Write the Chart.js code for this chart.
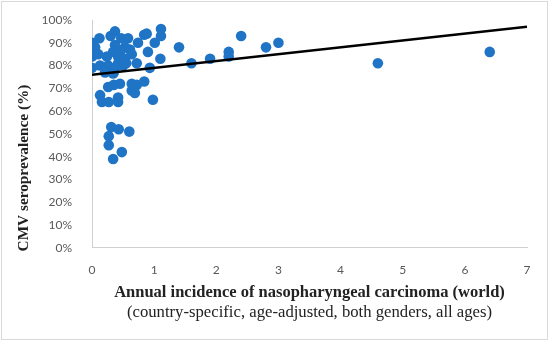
<!DOCTYPE html>
<html>
<head>
<meta charset="utf-8">
<script src="https://cdn.jsdelivr.net/npm/chart.js@4"></script>
<style>
  html, body { margin: 0; padding: 0; background: #fff; }
  #frame { position: absolute; left: 1px; top: 1px; width: 545px; height: 337px; border: 1px solid #d9d9d9; }
  #wrap { position: absolute; left: 0; top: 0; width: 550px; height: 344px; }
</style>
</head>
<body>
<div id="frame"></div>
<div id="wrap"><canvas id="chart"></canvas></div>
<script>
// incidence (x) and CMV seroprevalence % (y)
const incidence = [
  0, 0.05, 0.12, 0.3, 0.37, 0.37, 0.47, 0.53, 0.58, 0.61, 0.74, 0.84, 0.88, 1.01, 1.11, 1.11, 1.4, 2.4, 2.8, 3.0,
  0, 0, 0.1, 0.24, 0.26, 0.34, 0.42, 0.42, 0.53, 0.64, 0.72, 0.9, 0.93, 1.1, 0.35, 0.5, 0.45, 0.55,
  0.13, 0.21, 0.37, 0.34, 1.6, 1.9, 2.2, 2.2, 4.6, 6.4,
  0.26, 0.35, 0.45, 0.13, 0.16, 0.27, 0.42, 0.42, 0.64, 0.72, 0.84, 0.64, 0.69, 0.98,
  0.31, 0.43, 0.6, 0.27, 0.27, 0.48, 0.34
];
const seroprevalence = [
  90, 88, 92, 93, 95, 89, 92, 88, 92, 87, 90, 93.5, 94, 90, 96, 93, 88, 93, 88, 90,
  84, 79, 85, 84, 80, 86, 84, 81, 83, 85, 81, 86, 79, 83, 77, 80, 86, 81,
  80, 77, 79, 76.5, 81, 83, 86, 84, 81, 86,
  70.6, 71.5, 72, 67, 64, 64, 66, 64, 72, 71.5, 73, 69, 68, 65,
  53, 52, 51, 49, 45, 42, 39
];
// linear trend line end points
const trendX = [0, 7];
const trendY = [76, 97];

const xTitle = "Annual incidence of nasopharyngeal carcinoma (world)";
const xSubtitle = "(country-specific, age-adjusted, both genders, all ages)";
const yTitle = "CMV seroprevalence (%)";

const points = incidence.map((x, i) => ({ x: x, y: seroprevalence[i] }));
const trend = trendX.map((x, i) => ({ x: x, y: trendY[i] }));

//draws the rotated y axis title
const yTitlePlugin = {
  id: "yTitle",
  afterDraw(chart) {
    const ctx = chart.ctx;
    ctx.save();
    ctx.translate(24, 168);
    ctx.rotate(-Math.PI / 2);
    ctx.font = "bold 15.3px 'Liberation Serif'";
    ctx.fillStyle = "#222";
    ctx.textAlign = "center";
    ctx.textBaseline = "middle";
    ctx.fillText(yTitle, 0, 0);
    ctx.restore();
  }
};

new Chart(document.getElementById("chart"), {
  type: "scatter",
  plugins: [yTitlePlugin],
  data: {
    datasets: [
      {
        type: "line",
        data: trend,
        borderColor: "#000",
        borderWidth: 2.5,
        pointRadius: 0,
        fill: false
      },
      {
        data: points,
        backgroundColor: "#1f74c6",
        borderWidth: 0,
        pointRadius: 5.3
      }
    ]
  },
  options: {
    responsive: true,
    maintainAspectRatio: false,
    animation: false,
    layout: { padding: { left: 0, top: 20, right: 23, bottom: 21.7 } },
    plugins: {
      legend: { display: false },
      tooltip: { enabled: false },
      subtitle: {
        display: true,
        text: xSubtitle,
        position: "bottom",
        fullSize: false,
        color: "#222",
        font: { family: "'Liberation Serif'", size: 16.7, weight: "normal" },
        padding: { top: 0, bottom: 0 }
      }
    },
    scales: {
      x: {
        type: "linear",
        min: 0,
        max: 7,
        grid: { display: false },
        border: { color: "#d0d0d0", width: 1 },
        ticks: { stepSize: 1, padding: 7, color: "#595959", font: { family: "Lato", size: 12 } },
        title: {
          display: true,
          text: xTitle,
          color: "#222",
          font: { family: "'Liberation Serif'", size: 16.5, weight: "bold" },
          padding: { top: 10, bottom: 0 }
        },
        afterFit(scale) { scale.height = 54.5; }
      },
      y: {
        min: 0,
        max: 100,
        grid: { display: false },
        border: { color: "#d0d0d0", width: 1 },
        ticks: {
          stepSize: 10,
          padding: 12,
          color: "#595959",
          font: { family: "Lato", size: 12 },
          callback: (v) => v + "%"
        },
        afterFit(scale) { scale.width = 92; }
      }
    }
  }
});
</script>
</body>
</html>
